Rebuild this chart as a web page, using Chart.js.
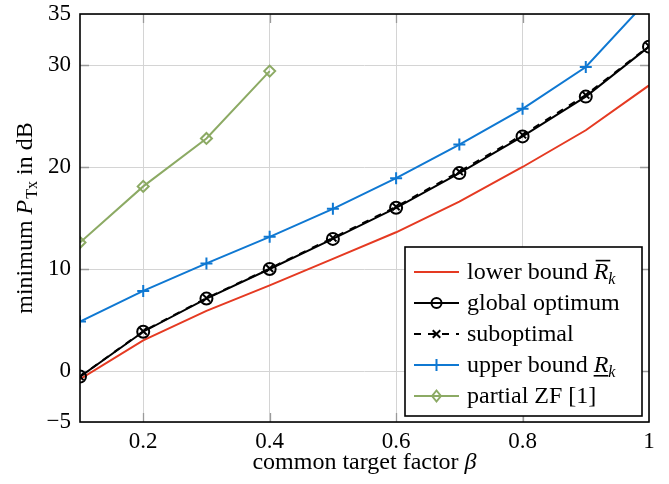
<!DOCTYPE html>
<html><head><meta charset="utf-8">
<script src="https://cdn.jsdelivr.net/npm/chart.js@4.4.1/dist/chart.umd.min.js"></script>
<style>html,body{margin:0;padding:0;background:#fff}canvas{display:block}</style>
</head><body>
<canvas id="c" width="669" height="484"></canvas>
<script>
// ---- data ----
const beta = [0.1, 0.2, 0.3, 0.4, 0.5, 0.6, 0.7, 0.8, 0.9, 1.0];
const lowerBound    = [-0.8, 3.0, 5.9, 8.4, 11.0, 13.6, 16.6, 20.0, 23.6, 28.0];
const globalOptimum = [-0.55, 3.85, 7.1, 10.0, 12.95, 16.0, 19.4, 23.0, 26.9, 31.8];
const suboptimal    = [-0.55, 3.9, 7.15, 10.05, 13.05, 16.1, 19.55, 23.15, 27.05, 31.85];
const upperBound    = [4.85, 7.85, 10.55, 13.15, 15.9, 18.9, 22.2, 25.7, 29.8, 36.5];
const betaZF = [0.1, 0.2, 0.3, 0.4];
const partialZF = [12.6, 18.1, 22.8, 29.4];
const xTicks = [0.2, 0.4, 0.6, 0.8, 1];
const yTicks = [-5, 0, 10, 20, 30, 35];

const RED = '#e53a22', BLUE = '#0f78d2', GREEN = '#8caa64', BLACK = '#000';
const SERIF = '"Liberation Serif","Times New Roman",serif';
const FS = 23;   // tick labels
const TS = 24;   // titles and legend text

function pts(xs, ys) { return xs.map((x, i) => ({x: x, y: ys[i]})); }

function drawParts(ctx, parts, x, y) {
  let cx = x;
  for (const p of parts) {
    const size = p.size || TS;
    ctx.font = (p.italic ? 'italic ' : '') + size + 'px ' + SERIF;
    ctx.fillText(p.t, cx, y + (p.dy || 0));
    const w = ctx.measureText(p.t).width;
    if (p.over) ctx.fillRect(cx + 2, y - TS * 0.80, w, 1.6);
    if (p.under) ctx.fillRect(cx, y + 3, w, 1.6);
    cx += w + (p.kern || 0);
  }
  return cx - x;
}
function measureParts(ctx, parts) {
  let w = 0;
  for (const p of parts) {
    ctx.font = (p.italic ? 'italic ' : '') + (p.size || TS) + 'px ' + SERIF;
    w += ctx.measureText(p.t).width + (p.kern || 0);
  }
  return w;
}
function marker(ctx, style, x, y, r, color) {
  ctx.save();
  ctx.strokeStyle = color; ctx.lineWidth = 2; ctx.setLineDash([]);
  ctx.beginPath();
  if (style === 'circle') { ctx.arc(x, y, r, 0, Math.PI * 2); }
  else if (style === 'cross') { ctx.moveTo(x - r, y); ctx.lineTo(x + r, y); ctx.moveTo(x, y - r); ctx.lineTo(x, y + r); }
  else if (style === 'crossRot') { const d = r * 0.75; ctx.moveTo(x - d, y - d); ctx.lineTo(x + d, y + d); ctx.moveTo(x - d, y + d); ctx.lineTo(x + d, y - d); }
  else if (style === 'rectRot') { ctx.moveTo(x, y - r); ctx.lineTo(x + r * 0.8, y); ctx.lineTo(x, y + r); ctx.lineTo(x - r * 0.8, y); ctx.closePath(); }
  ctx.stroke();
  ctx.restore();
}

const decor = {
  id: 'decor',
  beforeDatasetsDraw(chart) {
    const ctx = chart.ctx, a = chart.chartArea, xs = chart.scales.x, ys = chart.scales.y;
    ctx.save();
    ctx.strokeStyle = '#9a9a9a'; ctx.lineWidth = 1.3;
    const L = 9;
    ctx.beginPath();
    for (const t of xTicks) {
      if (t >= 1) continue;
      const px = Math.round(xs.getPixelForValue(t)) + 0.5;
      ctx.moveTo(px, a.bottom); ctx.lineTo(px, a.bottom - L);
      ctx.moveTo(px, a.top); ctx.lineTo(px, a.top + L);
    }
    for (const t of yTicks) {
      if (t <= -5 || t >= 35) continue;
      const py = Math.round(ys.getPixelForValue(t)) + 0.5;
      ctx.moveTo(a.left, py); ctx.lineTo(a.left + L, py);
      ctx.moveTo(a.right, py); ctx.lineTo(a.right - L, py);
    }
    ctx.stroke();
    ctx.restore();
  },
  afterDraw(chart) {
    const ctx = chart.ctx, a = chart.chartArea;
    ctx.save();
    // frame
    ctx.strokeStyle = '#000'; ctx.lineWidth = 1.6;
    ctx.strokeRect(a.left, a.top, a.right - a.left, a.bottom - a.top);
    ctx.fillStyle = '#000'; ctx.textBaseline = 'alphabetic'; ctx.textAlign = 'left';
    // x title
    const xParts = [{t: 'common target factor '}, {t: 'β', italic: true}];
    const xw = measureParts(ctx, xParts);
    drawParts(ctx, xParts, (a.left + a.right) / 2 - xw / 2, 469);
    // y title
    const yParts = [{t: 'minimum '}, {t: 'P', italic: true, kern: 1}, {t: 'Tx', size: 16, dy: 5}, {t: ' in dB'}];
    const yw = measureParts(ctx, yParts);
    ctx.save();
    ctx.translate(32, (a.top + a.bottom) / 2);
    ctx.rotate(-Math.PI / 2);
    drawParts(ctx, yParts, -yw / 2, 0);
    ctx.restore();
    // legend
    const bx = 405, by = 247, bw = 237, bh = 169;
    ctx.fillStyle = '#fff'; ctx.fillRect(bx, by, bw, bh);
    ctx.strokeStyle = '#000'; ctx.lineWidth = 1.6; ctx.strokeRect(bx, by, bw, bh);
    const rows = [
      {color: RED, dash: [], mk: null, parts: [{t: 'lower bound '}, {t: 'R', italic: true, over: true}, {t: 'k', italic: true, size: 16, dy: 5}]},
      {color: BLACK, dash: [], mk: 'circle', r: 5, parts: [{t: 'global optimum'}]},
      {color: BLACK, dash: [7, 7], mk: 'crossRot', r: 5, parts: [{t: 'suboptimal'}]},
      {color: BLUE, dash: [], mk: 'cross', r: 6, parts: [{t: 'upper bound '}, {t: 'R', italic: true, under: true}, {t: 'k', italic: true, size: 16, dy: 5}]},
      {color: GREEN, dash: [], mk: 'rectRot', r: 5.5, parts: [{t: 'partial ZF [1]'}]}
    ];
    rows.forEach((row, i) => {
      const cy = 272 + i * 31;
      ctx.save();
      ctx.strokeStyle = row.color; ctx.lineWidth = 2; ctx.setLineDash(row.dash);
      ctx.beginPath(); ctx.moveTo(414, cy); ctx.lineTo(459, cy); ctx.stroke();
      ctx.restore();
      if (row.mk) marker(ctx, row.mk, 436.5, cy, row.r, row.color);
      ctx.fillStyle = '#000';
      drawParts(ctx, row.parts, 467, cy + 7);
    });
    ctx.restore();
  }
};

const tickFont = {family: SERIF, size: FS};
new Chart(document.getElementById('c'), {
  type: 'line',
  data: {
    datasets: [
      {label: 'lower bound', data: pts(beta, lowerBound), borderColor: RED, borderWidth: 2, pointRadius: 0, order: 5},
      {label: 'global optimum', data: pts(beta, globalOptimum), borderColor: BLACK, borderWidth: 2, pointStyle: 'circle', pointRadius: 6, pointBorderWidth: 2, pointBackgroundColor: 'rgba(0,0,0,0)', pointBorderColor: BLACK, order: 4},
      {label: 'suboptimal', data: pts(beta, suboptimal), borderColor: BLACK, borderWidth: 2, borderDash: [7, 7], pointStyle: 'crossRot', pointRadius: 5, pointBorderWidth: 2, pointBorderColor: BLACK, order: 3},
      {label: 'upper bound', data: pts(beta, upperBound), borderColor: BLUE, borderWidth: 2, pointStyle: 'cross', pointRadius: 6, pointBorderWidth: 2, pointBorderColor: BLUE, order: 2},
      {label: 'partial ZF [1]', data: pts(betaZF, partialZF), borderColor: GREEN, borderWidth: 2, pointStyle: 'rectRot', pointRadius: 5.5, pointBorderWidth: 2, pointBackgroundColor: 'rgba(0,0,0,0)', pointBorderColor: GREEN, order: 1}
    ]
  },
  options: {
    responsive: false, animation: false, devicePixelRatio: 1,
    layout: {padding: {top: 14, right: 20, left: 0, bottom: 0}},
    plugins: {legend: {display: false}, tooltip: {enabled: false}},
    elements: {line: {tension: 0, fill: false}},
    scales: {
      x: {
        type: 'linear', min: 0.1, max: 1,
        afterBuildTicks: s => { s.ticks = xTicks.map(v => ({value: v})); },
        afterFit: s => { s.height = 62; s.paddingLeft = 0; s.paddingRight = 0; },
        ticks: {font: tickFont, color: '#000', padding: 6, maxRotation: 0, autoSkip: false,
                callback: v => (v === 1 ? '1' : v.toFixed(1))},
        grid: {color: '#d4d4d4', lineWidth: 1, drawTicks: false},
        border: {display: false}
      },
      y: {
        type: 'linear', min: -5, max: 35,
        afterBuildTicks: s => { s.ticks = yTicks.map(v => ({value: v})); },
        afterFit: s => { s.width = 80; s.paddingTop = 0; s.paddingBottom = 0; },
        ticks: {font: tickFont, color: '#000', padding: 9, autoSkip: false,
                callback: v => (v < 0 ? '\u2212' + Math.abs(v) : String(v))},
        grid: {color: '#d4d4d4', lineWidth: 1, drawTicks: false},
        border: {display: false}
      }
    }
  },
  plugins: [decor]
});
</script>
</body></html>
